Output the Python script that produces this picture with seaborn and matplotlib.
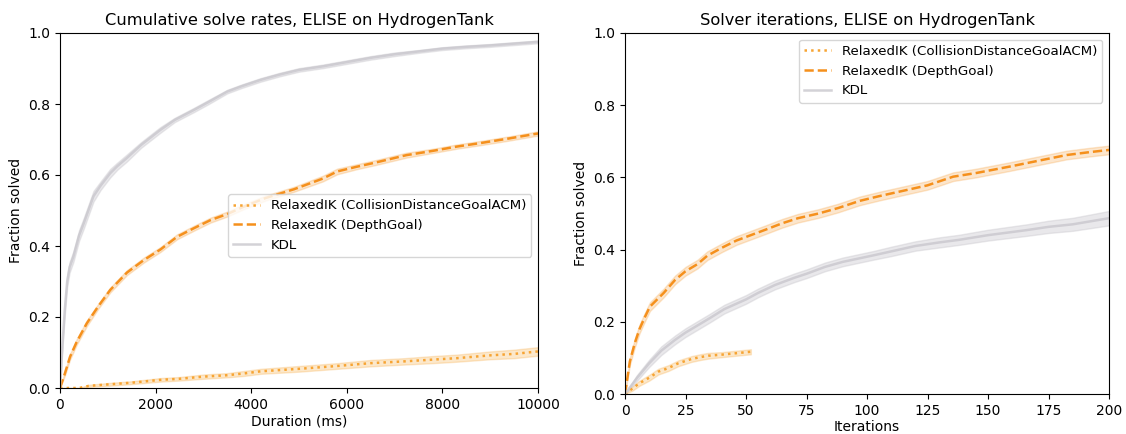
import numpy as np
import pandas as pd
import matplotlib
matplotlib.use("Agg")
import matplotlib.pyplot as plt
import seaborn as sns

# ---------------- data: left panel (duration, ms) ----------------
dur_kdl_x = [0, 50, 100, 150, 200, 280, 400, 500, 700, 850, 1050, 1200, 1400, 1700, 2100,
             2400, 2800, 3100, 3500, 3800, 4200, 4600, 5000, 5500, 6000, 6500, 7000, 7500,
             8000, 8500, 9000, 9500, 10000]
dur_kdl_y = [0.0, 0.12, 0.22, 0.30, 0.34, 0.37, 0.43, 0.465, 0.54, 0.57, 0.605, 0.625, 0.648,
             0.685, 0.727, 0.755, 0.783, 0.805, 0.835, 0.85, 0.868, 0.883, 0.896, 0.906, 0.918,
             0.93, 0.94, 0.948, 0.956, 0.961, 0.965, 0.97, 0.975]
dur_kdl_hw = [0.0, 0.01, 0.015, 0.015, 0.015, 0.015, 0.015, 0.015, 0.015, 0.012, 0.012, 0.01,
              0.01, 0.008, 0.008, 0.006, 0.006, 0.006, 0.005, 0.005, 0.005, 0.005, 0.005, 0.005,
              0.005, 0.005, 0.005, 0.004, 0.004, 0.004, 0.004, 0.004, 0.004]

dur_depth_x = [0, 100, 210, 350, 560, 800, 1050, 1400, 1750, 2100, 2450, 2800, 3150, 3500,
               3850, 4300, 4900, 5500, 5800, 6200, 6600, 7250, 7800, 8300, 8800, 9400, 10000]
dur_depth_y = [0.0, 0.04, 0.088, 0.13, 0.182, 0.23, 0.276, 0.325, 0.36, 0.39, 0.426, 0.45,
               0.473, 0.49, 0.511, 0.535, 0.56, 0.59, 0.61, 0.623, 0.635, 0.656, 0.668, 0.68,
               0.69, 0.703, 0.717]
dur_depth_hw = [0.0, 0.006, 0.008, 0.008, 0.008, 0.007, 0.007, 0.007, 0.007, 0.007, 0.007,
                0.007, 0.007, 0.007, 0.007, 0.007, 0.007, 0.008, 0.008, 0.007, 0.007, 0.007,
                0.006, 0.006, 0.006, 0.006, 0.006]

dur_coll_x = [0, 400, 600, 1000, 1500, 2100, 2500, 3000, 3500, 3850, 4200, 5000, 5800, 6500,
              7200, 7800, 8300, 9000, 9500, 10000]
dur_coll_y = [0.0, 0.0, 0.006, 0.01, 0.015, 0.023, 0.026, 0.032, 0.036, 0.041, 0.047, 0.054,
              0.062, 0.07, 0.075, 0.08, 0.084, 0.092, 0.096, 0.103]
dur_coll_hw = [0.0, 0.0, 0.003, 0.004, 0.004, 0.005, 0.005, 0.006, 0.006, 0.007, 0.007, 0.008,
               0.008, 0.009, 0.009, 0.01, 0.01, 0.011, 0.012, 0.012]

# ---------------- data: right panel (iterations) ----------------
it_depth_x = [0, 2, 4, 6, 8, 10.3, 13, 16, 20.7, 25, 30, 34, 40, 46, 52, 58, 65, 71.5, 80, 88,
              97, 105, 115, 125, 135.6, 145, 159, 170, 182.5, 192, 200]
it_depth_y = [0.0, 0.09, 0.14, 0.18, 0.21, 0.242, 0.26, 0.28, 0.316, 0.34, 0.36, 0.383, 0.405,
              0.425, 0.44, 0.455, 0.473, 0.487, 0.5, 0.515, 0.535, 0.548, 0.563, 0.578, 0.602,
              0.612, 0.63, 0.645, 0.662, 0.67, 0.676]
it_depth_hw = [0.0, 0.01, 0.012, 0.012, 0.012, 0.012, 0.012, 0.012, 0.012, 0.012, 0.012, 0.012,
               0.012, 0.012, 0.012, 0.012, 0.012, 0.012, 0.012, 0.012, 0.012, 0.012, 0.012,
               0.012, 0.012, 0.012, 0.012, 0.012, 0.012, 0.012, 0.012]

it_kdl_x = [0, 5, 10, 15, 20.7, 25, 30, 35, 41, 50, 55, 62, 70, 75, 82.6, 90, 97, 102.6, 110,
            120, 130, 138, 150, 166, 175, 185, 200]
it_kdl_y = [0.0, 0.045, 0.085, 0.12, 0.15, 0.17, 0.19, 0.21, 0.235, 0.262, 0.28, 0.302, 0.322,
            0.333, 0.352, 0.366, 0.376, 0.384, 0.395, 0.41, 0.42, 0.427, 0.44, 0.454, 0.463,
            0.47, 0.487]
it_kdl_hw = [0.0, 0.008, 0.01, 0.012, 0.012, 0.012, 0.012, 0.012, 0.012, 0.012, 0.012, 0.012,
             0.012, 0.012, 0.012, 0.012, 0.012, 0.012, 0.013, 0.013, 0.014, 0.014, 0.015,
             0.016, 0.017, 0.018, 0.02]

it_coll_x = [0, 3, 6, 10, 13.8, 18, 22, 27.5, 31, 34.4, 40, 46, 52]
it_coll_y = [0.0, 0.015, 0.03, 0.045, 0.062, 0.072, 0.085, 0.097, 0.102, 0.106, 0.109, 0.113,
             0.117]
it_coll_hw = [0.0, 0.006, 0.007, 0.008, 0.008, 0.008, 0.008, 0.008, 0.008, 0.008, 0.007,
              0.007, 0.007]

labels = ["RelaxedIK (CollisionDistanceGoalACM)", "RelaxedIK (DepthGoal)", "KDL"]


def band_frame(xs, ys, hws):
    rows = []
    for x, y, h in zip(xs, ys, hws):
        rows.append((x, y - h))
        rows.append((x, y))
        rows.append((x, y + h))
    return pd.DataFrame(rows, columns=["x", "y"])


styles = {
    labels[0]: dict(color="#f7a433", linestyle=":", alpha=1.0, err_kws={"alpha": 0.25}),
    labels[1]: dict(color="#f5901c", linestyle="--", alpha=1.0, err_kws={"alpha": 0.22}),
    labels[2]: dict(color="#c9c7cd", linestyle="-", alpha=0.8, err_kws={"alpha": 0.4}),
}

fig = plt.figure(figsize=(11.26, 4.34), dpi=100)
axL = fig.add_axes([60 / 1126, 46 / 434, 478 / 1126, 355 / 434])
axR = fig.add_axes([625 / 1126, 40 / 434, 484 / 1126, 361 / 434])

left_series = [(dur_coll_x, dur_coll_y, dur_coll_hw),
               (dur_depth_x, dur_depth_y, dur_depth_hw),
               (dur_kdl_x, dur_kdl_y, dur_kdl_hw)]
right_series = [(it_coll_x, it_coll_y, it_coll_hw),
                (it_depth_x, it_depth_y, it_depth_hw),
                (it_kdl_x, it_kdl_y, it_kdl_hw)]

for ax, series in [(axL, left_series), (axR, right_series)]:
    for lab, (xs, ys, hws) in zip(labels, series):
        st = styles[lab]
        sns.lineplot(data=band_frame(xs, ys, hws), x="x", y="y", ax=ax,
                     estimator="mean", errorbar=("pi", 100), label=lab,
                     color=st["color"], linestyle=st["linestyle"], alpha=st["alpha"],
                     linewidth=1.8, err_kws=st["err_kws"])

axL.set_xlim(0, 10000)
axL.set_ylim(0, 1.0)
axL.set_xticks([0, 2000, 4000, 6000, 8000, 10000])
axL.set_xlabel("Duration (ms)", fontsize=10, labelpad=2)
axL.set_ylabel("Fraction solved", fontsize=10)
axL.set_title("Cumulative solve rates, ELISE on HydrogenTank", fontsize=11.7)
axL.legend(loc="center right", bbox_to_anchor=(1.0, 0.458), fontsize=9.6)

axR.set_xlim(0, 200)
axR.set_ylim(0, 1.0)
axR.set_xticks([0, 25, 50, 75, 100, 125, 150, 175, 200])
axR.set_xlabel("Iterations", fontsize=10, labelpad=1.5)
axR.set_ylabel("Fraction solved", fontsize=10)
axR.set_title("Solver iterations, ELISE on HydrogenTank", fontsize=11.7)
axR.legend(loc="upper right", fontsize=9.6)

for ax in (axL, axR):
    ax.tick_params(labelsize=10)

fig.savefig("out.png", dpi=100)
